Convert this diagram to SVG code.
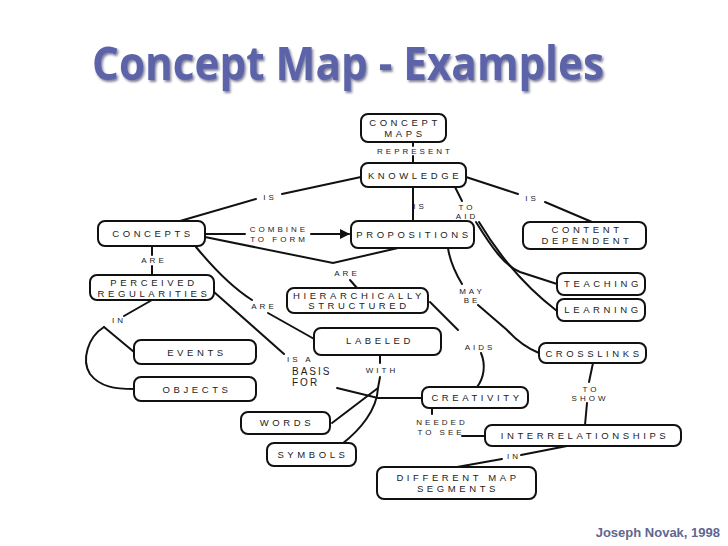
<svg xmlns="http://www.w3.org/2000/svg" width="728" height="546" viewBox="0 0 728 546">
<style>
.n rect{fill:#fff;stroke:#111;stroke-width:2}
.n text{font-family:"Liberation Sans",Arial,sans-serif;font-size:9.5px;letter-spacing:3.6px;fill:#222;text-anchor:middle}
.l{font-family:"Liberation Sans",Arial,sans-serif;font-size:8px;letter-spacing:3px;fill:#222;text-anchor:middle}
#connectors path{fill:none;stroke:#111;stroke-width:2;stroke-linecap:round}
</style>
<defs>
<marker id="arr" viewBox="0 0 10 10" refX="9" refY="5" markerWidth="5" markerHeight="5" orient="auto" markerUnits="strokeWidth">
<path d="M0,0 L10,5 L0,10 z" fill="#111"/>
</marker>
<filter id="sh" x="-5%" y="-20%" width="110%" height="150%">
<feDropShadow dx="1.5" dy="2" stdDeviation="0.8" flood-color="#2a2e55" flood-opacity="0.6"/>
</filter>
</defs>
<rect width="728" height="546" fill="#fff"/>
<g id="title">
<text x="92" y="80" textLength="512" lengthAdjust="spacingAndGlyphs" font-family="'Open Sans',sans-serif" font-weight="bold" font-size="46" fill="#5b64a8" filter="url(#sh)">Concept Map - Examples</text>
</g>
<g id="connectors">
<path d="M413,142 V146 M413,156 V163"/>
<path d="M361,177 L282,194 M256,199 L180,221"/>
<path d="M413,187 V221"/>
<path d="M455,187 L462,201"/>
<path d="M476,222 C492,248 505,266 520,272 L557,284"/>
<path d="M479,222 C503,262 532,292 557,311"/>
<path d="M466,177 L518,194 M545,202 L592,222"/>
<path d="M205,234 L245,234 M311,234 L349,234" marker-end="url(#arr)"/>
<path d="M205,237 L333,263 L398,248"/>
<path d="M350,280 L357,288"/>
<path d="M152,246 V255 M152,266 V275"/>
<path d="M196,247 C215,270 233,288 252,300"/>
<path d="M268,313 L316,340"/>
<path d="M214,292 C240,315 264,336 284,354"/>
<path d="M152,300 L124,316"/>
<path d="M104,327 L134,352"/>
<path d="M104,327 C88,337 81,360 90,374 C100,387 115,389 134,389"/>
<path d="M337,388 L378,398 L422,398"/>
<path d="M380,355 V363"/>
<path d="M380,377 L378,388 L332,423"/>
<path d="M378,388 C377,410 360,430 342,444"/>
<path d="M430,302 L458,330"/>
<path d="M481,353 C486,365 484,378 477,387"/>
<path d="M448,248 C450,262 456,274 462,284"/>
<path d="M478,305 L507,330 C516,340 526,348 539,353"/>
<path d="M432,408 V414"/>
<path d="M462,436 H485"/>
<path d="M593,363 L589,382"/>
<path d="M587,403 L585,425"/>
<path d="M567,446 L521,455"/>
<path d="M502,459 L457,467"/>
</g>
<g id="labels">
<text class="l" x="415" y="154">REPRESENT</text>
<text class="l" x="270" y="200">IS</text>
<text class="l" x="420" y="209">IS</text>
<text class="l" x="467" y="210">TO</text>
<text class="l" x="467" y="219">AID</text>
<text class="l" x="532" y="201">IS</text>
<text class="l" x="279" y="232">COMBINE</text>
<text class="l" x="279" y="242">TO FORM</text>
<text class="l" x="154" y="263">ARE</text>
<text class="l" x="347" y="276">ARE</text>
<text class="l" x="264" y="309">ARE</text>
<text class="l" x="472" y="294">MAY</text>
<text class="l" x="472" y="303">BE</text>
<text class="l" x="119" y="323">IN</text>
<text class="l" x="287" y="362" style="text-anchor:start">IS A</text>
<text class="l" x="292" y="375" style="text-anchor:start;font-size:10px;letter-spacing:2px">BASIS</text>
<text class="l" x="292" y="386" style="text-anchor:start;font-size:10px;letter-spacing:2px">FOR</text>
<text class="l" x="382" y="373">WITH</text>
<text class="l" x="480" y="350">AIDS</text>
<text class="l" x="591" y="392">TO</text>
<text class="l" x="590" y="401">SHOW</text>
<text class="l" x="442" y="425">NEEDED</text>
<text class="l" x="441" y="435">TO SEE</text>
<text class="l" x="514" y="459">IN</text>
</g>
<g id="concept-maps" class="n"><rect x="361" y="114" width="85" height="28" rx="7"/><text x="405" y="126">CONCEPT</text><text x="405" y="137">MAPS</text></g>
<g id="knowledge" class="n"><rect x="361" y="163" width="105" height="24" rx="7"/><text x="415" y="179">KNOWLEDGE</text></g>
<g id="concepts" class="n"><rect x="98" y="221" width="107" height="25" rx="7"/><text x="153" y="237">CONCEPTS</text></g>
<g id="propositions" class="n"><rect x="351" y="221" width="123" height="27" rx="7"/><text x="414" y="238">PROPOSITIONS</text></g>
<g id="content-dependent" class="n"><rect x="523" y="222" width="123" height="27" rx="7"/><text x="587" y="233">CONTENT</text><text x="587" y="244">DEPENDENT</text></g>
<g id="perceived-regularities" class="n"><rect x="90" y="275" width="124" height="25" rx="7"/><text x="154" y="286">PERCEIVED</text><text x="154" y="297">REGULARITIES</text></g>
<g id="hierarchically-structured" class="n"><rect x="287" y="288" width="141" height="25" rx="7"/><text x="359" y="299">HIERARCHICALLY</text><text x="359" y="309">STRUCTURED</text></g>
<g id="teaching" class="n"><rect x="557" y="273" width="88" height="22" rx="7"/><text x="603" y="287">TEACHING</text></g>
<g id="learning" class="n"><rect x="557" y="299" width="88" height="22" rx="7"/><text x="603" y="313">LEARNING</text></g>
<g id="labeled" class="n"><rect x="314" y="328" width="127" height="27" rx="7"/><text x="380" y="344">LABELED</text></g>
<g id="crosslinks" class="n"><rect x="539" y="343" width="107" height="20" rx="7"/><text x="594" y="357">CROSSLINKS</text></g>
<g id="events" class="n"><rect x="134" y="340" width="122" height="24" rx="7"/><text x="197" y="356">EVENTS</text></g>
<g id="objects" class="n"><rect x="134" y="377" width="122" height="24" rx="7"/><text x="197" y="393">OBJECTS</text></g>
<g id="creativity" class="n"><rect x="422" y="387" width="106" height="21" rx="7"/><text x="477" y="401">CREATIVITY</text></g>
<g id="words" class="n"><rect x="241" y="412" width="89" height="22" rx="7"/><text x="287" y="426">WORDS</text></g>
<g id="symbols" class="n"><rect x="267" y="443" width="89" height="23" rx="7"/><text x="313" y="458">SYMBOLS</text></g>
<g id="interrelationships" class="n"><rect x="485" y="425" width="196" height="21" rx="7"/><text x="585" y="439">INTERRELATIONSHIPS</text></g>
<g id="different-map-segments" class="n"><rect x="377" y="467" width="159" height="32" rx="7"/><text x="458" y="481">DIFFERENT  MAP</text><text x="458" y="492">SEGMENTS</text></g>
<text x="720" y="537" text-anchor="end" font-family="'Liberation Sans',Arial,sans-serif" font-weight="bold" font-size="13" fill="#5f6690">Joseph Novak, 1998</text>
</svg>
